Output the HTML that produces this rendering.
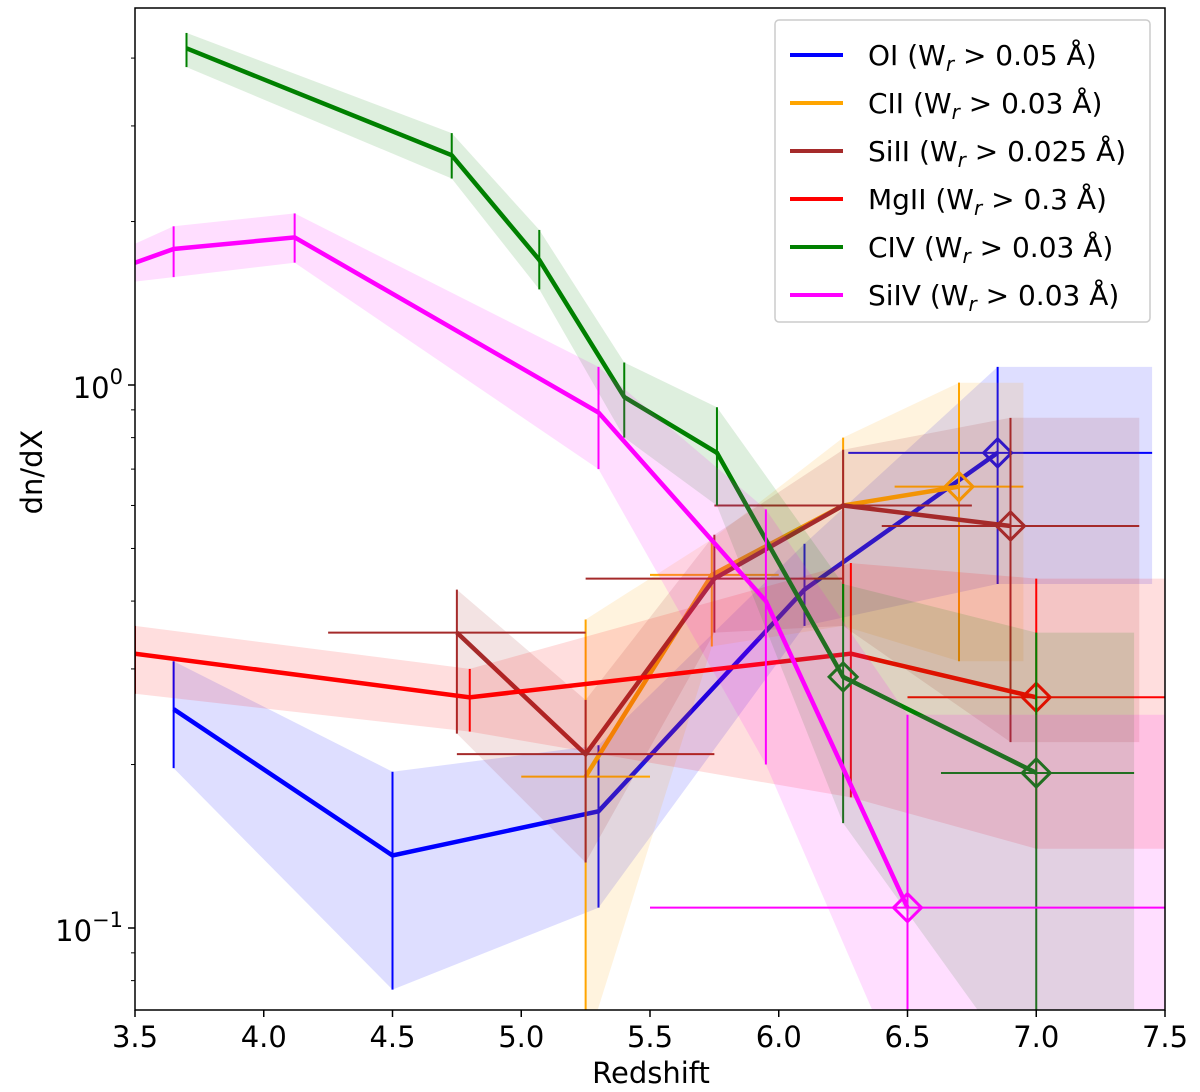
<!DOCTYPE html>
<html><head><meta charset="utf-8"><style>
body{margin:0;background:#fff}
svg{display:block;font-family:"DejaVu Sans","Liberation Sans",sans-serif}
</style></head><body>
<svg id="chart" width="1200" height="1092" viewBox="0 0 1200 1092" xmlns="http://www.w3.org/2000/svg">
<defs><clipPath id="clip"><rect x="135" y="8" width="1030" height="1002"/></clipPath></defs>
<g id="plot" clip-path="url(#clip)"></g>
<g id="axes"></g>
</svg>
<script>
// ---- data ----
const xTicks=[3.5,4.0,4.5,5.0,5.5,6.0,6.5,7.0,7.5];
const xTickLabels=["3.5","4.0","4.5","5.0","5.5","6.0","6.5","7.0","7.5"];
const seriesNames=["OI","CII","SiII","MgII","CIV","SiIV"];
const seriesLabels=["OI (W","CII (W","SiII (W","MgII (W","CIV  (W","SiIV (W"];
const seriesThresholds=["0.05 Å)","0.03 Å)","0.025 Å)","0.3 Å)","0.03 Å)","0.03 Å)"];
const seriesColors=["#0000ff","#ffa500","#a52a2a","#ff0000","#008000","#ff00ff"];

const oiZ=[3.65,4.5,5.3,6.1,6.85];
const oiV=[0.253,0.136,0.164,0.42,0.75];
const oiLo=[0.197,0.077,0.109,0.36,0.43];
const oiHi=[0.31,0.194,0.217,0.51,1.08];
const oiXlo=[null,null,null,null,6.27];
const oiXhi=[null,null,null,null,7.45];
const oiMark=[0,0,0,0,1];

const ciiZ=[5.25,5.74,6.25,6.7];
const ciiV=[0.19,0.447,0.6,0.65];
const ciiLo=[0.06,0.33,0.36,0.31];
const ciiHi=[0.37,0.52,0.8,1.01];
const ciiXlo=[5.0,5.5,null,6.45];
const ciiXhi=[5.5,6.0,null,6.95];
const ciiMark=[0,0,0,1];

const siiiZ=[4.75,5.25,5.75,6.25,6.9];
const siiiV=[0.35,0.209,0.44,0.6,0.55];
const siiiLo=[0.228,0.132,0.35,0.36,0.22];
const siiiHi=[0.42,0.263,0.53,0.76,0.87];
const siiiXlo=[4.25,4.75,5.25,5.75,6.4];
const siiiXhi=[5.25,5.75,6.25,6.75,7.4];
const siiiMark=[0,0,0,0,1];

const mgiiZ=[3.5,4.8,6.28,7.0];
const mgiiV=[0.32,0.266,0.32,0.266];
const mgiiLo=[0.27,0.23,0.174,0.14];
const mgiiHi=[0.36,0.30,0.47,0.44];
const mgiiXlo=[null,null,null,6.5];
const mgiiXhi=[null,null,null,7.5];
const mgiiMark=[0,0,0,1];

const civZ=[3.7,4.73,5.07,5.4,5.76,6.25,7.0];
const civV=[4.17,2.65,1.70,0.95,0.75,0.29,0.193];
const civLo=[3.85,2.40,1.50,0.80,0.60,0.156,0.05];
const civHi=[4.45,2.91,1.93,1.10,0.91,0.43,0.35];
const civXlo=[null,null,null,null,null,null,6.63];
const civXhi=[null,null,null,null,null,null,7.38];
const civMark=[0,0,0,0,0,1,1];

const siivZ=[3.5,3.65,4.12,5.3,5.95,6.5];
const siivV=[1.68,1.78,1.87,0.89,0.40,0.109];
const siivLo=[1.55,1.58,1.68,0.70,0.20,0.05];
const siivHi=[1.82,1.96,2.07,1.08,0.59,0.247];
const siivXlo=[null,null,null,null,null,5.5];
const siivXhi=[null,null,null,null,null,7.5];
const siivMark=[0,0,0,0,0,1];
const siivErrShown=[0,1,1,1,1,1];

// ---- scales ----
const X0=135,X1=1165,YTOP=8,YBOT=1010,Y1PX=385,DEC=543;
function xs(z){return X0+(z-3.5)/(7.5-3.5)*(X1-X0);}
function ys(v){return Y1PX-Math.log10(v)*DEC;}
const NS="http://www.w3.org/2000/svg";
function mk(tag,attrs,parent){const e=document.createElementNS(NS,tag);for(const k in attrs)e.setAttribute(k,attrs[k]);parent.appendChild(e);return e;}
const plot=document.getElementById('plot'),axes=document.getElementById('axes');

const all=[
 [oiZ,oiV,oiLo,oiHi,oiXlo,oiXhi,oiMark,null],
 [ciiZ,ciiV,ciiLo,ciiHi,ciiXlo,ciiXhi,ciiMark,null],
 [siiiZ,siiiV,siiiLo,siiiHi,siiiXlo,siiiXhi,siiiMark,null],
 [mgiiZ,mgiiV,mgiiLo,mgiiHi,mgiiXlo,mgiiXhi,mgiiMark,null],
 [civZ,civV,civLo,civHi,civXlo,civXhi,civMark,null],
 [siivZ,siivV,siivLo,siivHi,siivXlo,siivXhi,siivMark,siivErrShown]
];
all.forEach((s,i)=>{
 const [Z,V,LO,HI,XL,XH,M,SH]=s;const col=seriesColors[i];const nm=seriesNames[i].toLowerCase();
 const g=mk('g',{},plot);
 
 
 const n=Z.length;
 let top=[],bot=[];
 for(let k=0;k<n;k++){top.push([xs(Z[k]),ys(HI[k])]);bot.push([xs(Z[k]),ys(LO[k])]);}
 if(XH[n-1]!=null){top.push([xs(XH[n-1]),ys(HI[n-1])]);bot.push([xs(XH[n-1]),ys(LO[n-1])]);}
 const pts=top.concat(bot.reverse()).map(p=>p[0].toFixed(1)+','+p[1].toFixed(1)).join(' ');
 const band=mk('polygon',{points:pts,fill:col,'fill-opacity':0.13,stroke:'none'},g);
 
 
 const line=mk('polyline',{points:Z.map((z,k)=>xs(z).toFixed(1)+','+ys(V[k]).toFixed(1)).join(' '),fill:'none',stroke:col,'stroke-width':4.5,'stroke-linejoin':'miter'},g);
 
 
 for(let k=0;k<n;k++){
  const x=xs(Z[k]),y=ys(V[k]);
  if(!SH||SH[k]){
   const eb=mk('line',{x1:x,x2:x,y1:ys(LO[k]),y2:ys(HI[k]),stroke:col,'stroke-width':2},g);
   
   
  }
  if(XL[k]!=null){
   const hb=mk('line',{x1:xs(XL[k]),x2:xs(XH[k]),y1:y,y2:y,stroke:col,'stroke-width':2},g);
   
   
  }
  if(M[k]){
   const d=14;
   const dm=mk('polygon',{points:`${x},${y-d} ${x+d},${y} ${x},${y+d} ${x-d},${y}`,fill:'none',stroke:col,'stroke-width':3},g);
   
   
  }
 }
});

// ---- axes ----
mk('rect',{x:X0,y:YTOP,width:X1-X0,height:YBOT-YTOP,fill:'none',stroke:'#000','stroke-width':1.5},axes);
xTicks.forEach((t,i)=>{
 const x=xs(t);
 mk('line',{x1:x,x2:x,y1:YBOT,y2:YBOT+7,stroke:'#000','stroke-width':1.5},axes);
 const tx=mk('text',{x:x,y:1047,'text-anchor':'middle','font-size':29},axes);
 tx.textContent=xTickLabels[i];
 
 
});
[0.08,0.09,0.2,0.3,0.4,0.5,0.6,0.7,0.8,0.9,2,3,4].forEach(v=>{
 const y=ys(v);mk('line',{x1:X0-4,x2:X0,y1:y,y2:y,stroke:'#000','stroke-width':1},axes);
});
[[1,'0'],[0.1,'−1']].forEach(([v,e])=>{
 const y=ys(v);mk('line',{x1:X0-7,x2:X0,y1:y,y2:y,stroke:'#000','stroke-width':1.5},axes);
 const t=mk('text',{x:X0-12,y:y+13,'text-anchor':'end','font-size':29},axes);
 
 
 t.innerHTML='10<tspan dy="-14" font-size="21">'+e+'</tspan>';
});
const xl=mk('text',{x:651,y:1083,'text-anchor':'middle','font-size':29},axes);xl.textContent='Redshift';


const yl=mk('text',{x:0,y:0,'text-anchor':'middle','font-size':29,transform:'translate(42,472) rotate(-90)'},axes);yl.textContent='dn/dX';



// ---- legend ----
const lg=mk('g',{},axes);


mk('rect',{x:775,y:20,width:375,height:302,rx:4,fill:'#fff','fill-opacity':0.8,stroke:'#ccc','stroke-width':1.5},lg);
seriesNames.forEach((s,i)=>{
 const y=55+i*48;
 const e=mk('g',{},lg);
 
 
 mk('line',{x1:790,x2:843,y1:y,y2:y,stroke:seriesColors[i],'stroke-width':4},e);
 const t=mk('text',{x:868,y:y+10,'font-size':28,'xml:space':'preserve'},e);
 t.innerHTML=seriesLabels[i]+'<tspan dy="6" font-size="20" font-style="italic">r</tspan><tspan dy="-6"> &gt; '+seriesThresholds[i]+'</tspan>';
});
</script>
</body></html>
